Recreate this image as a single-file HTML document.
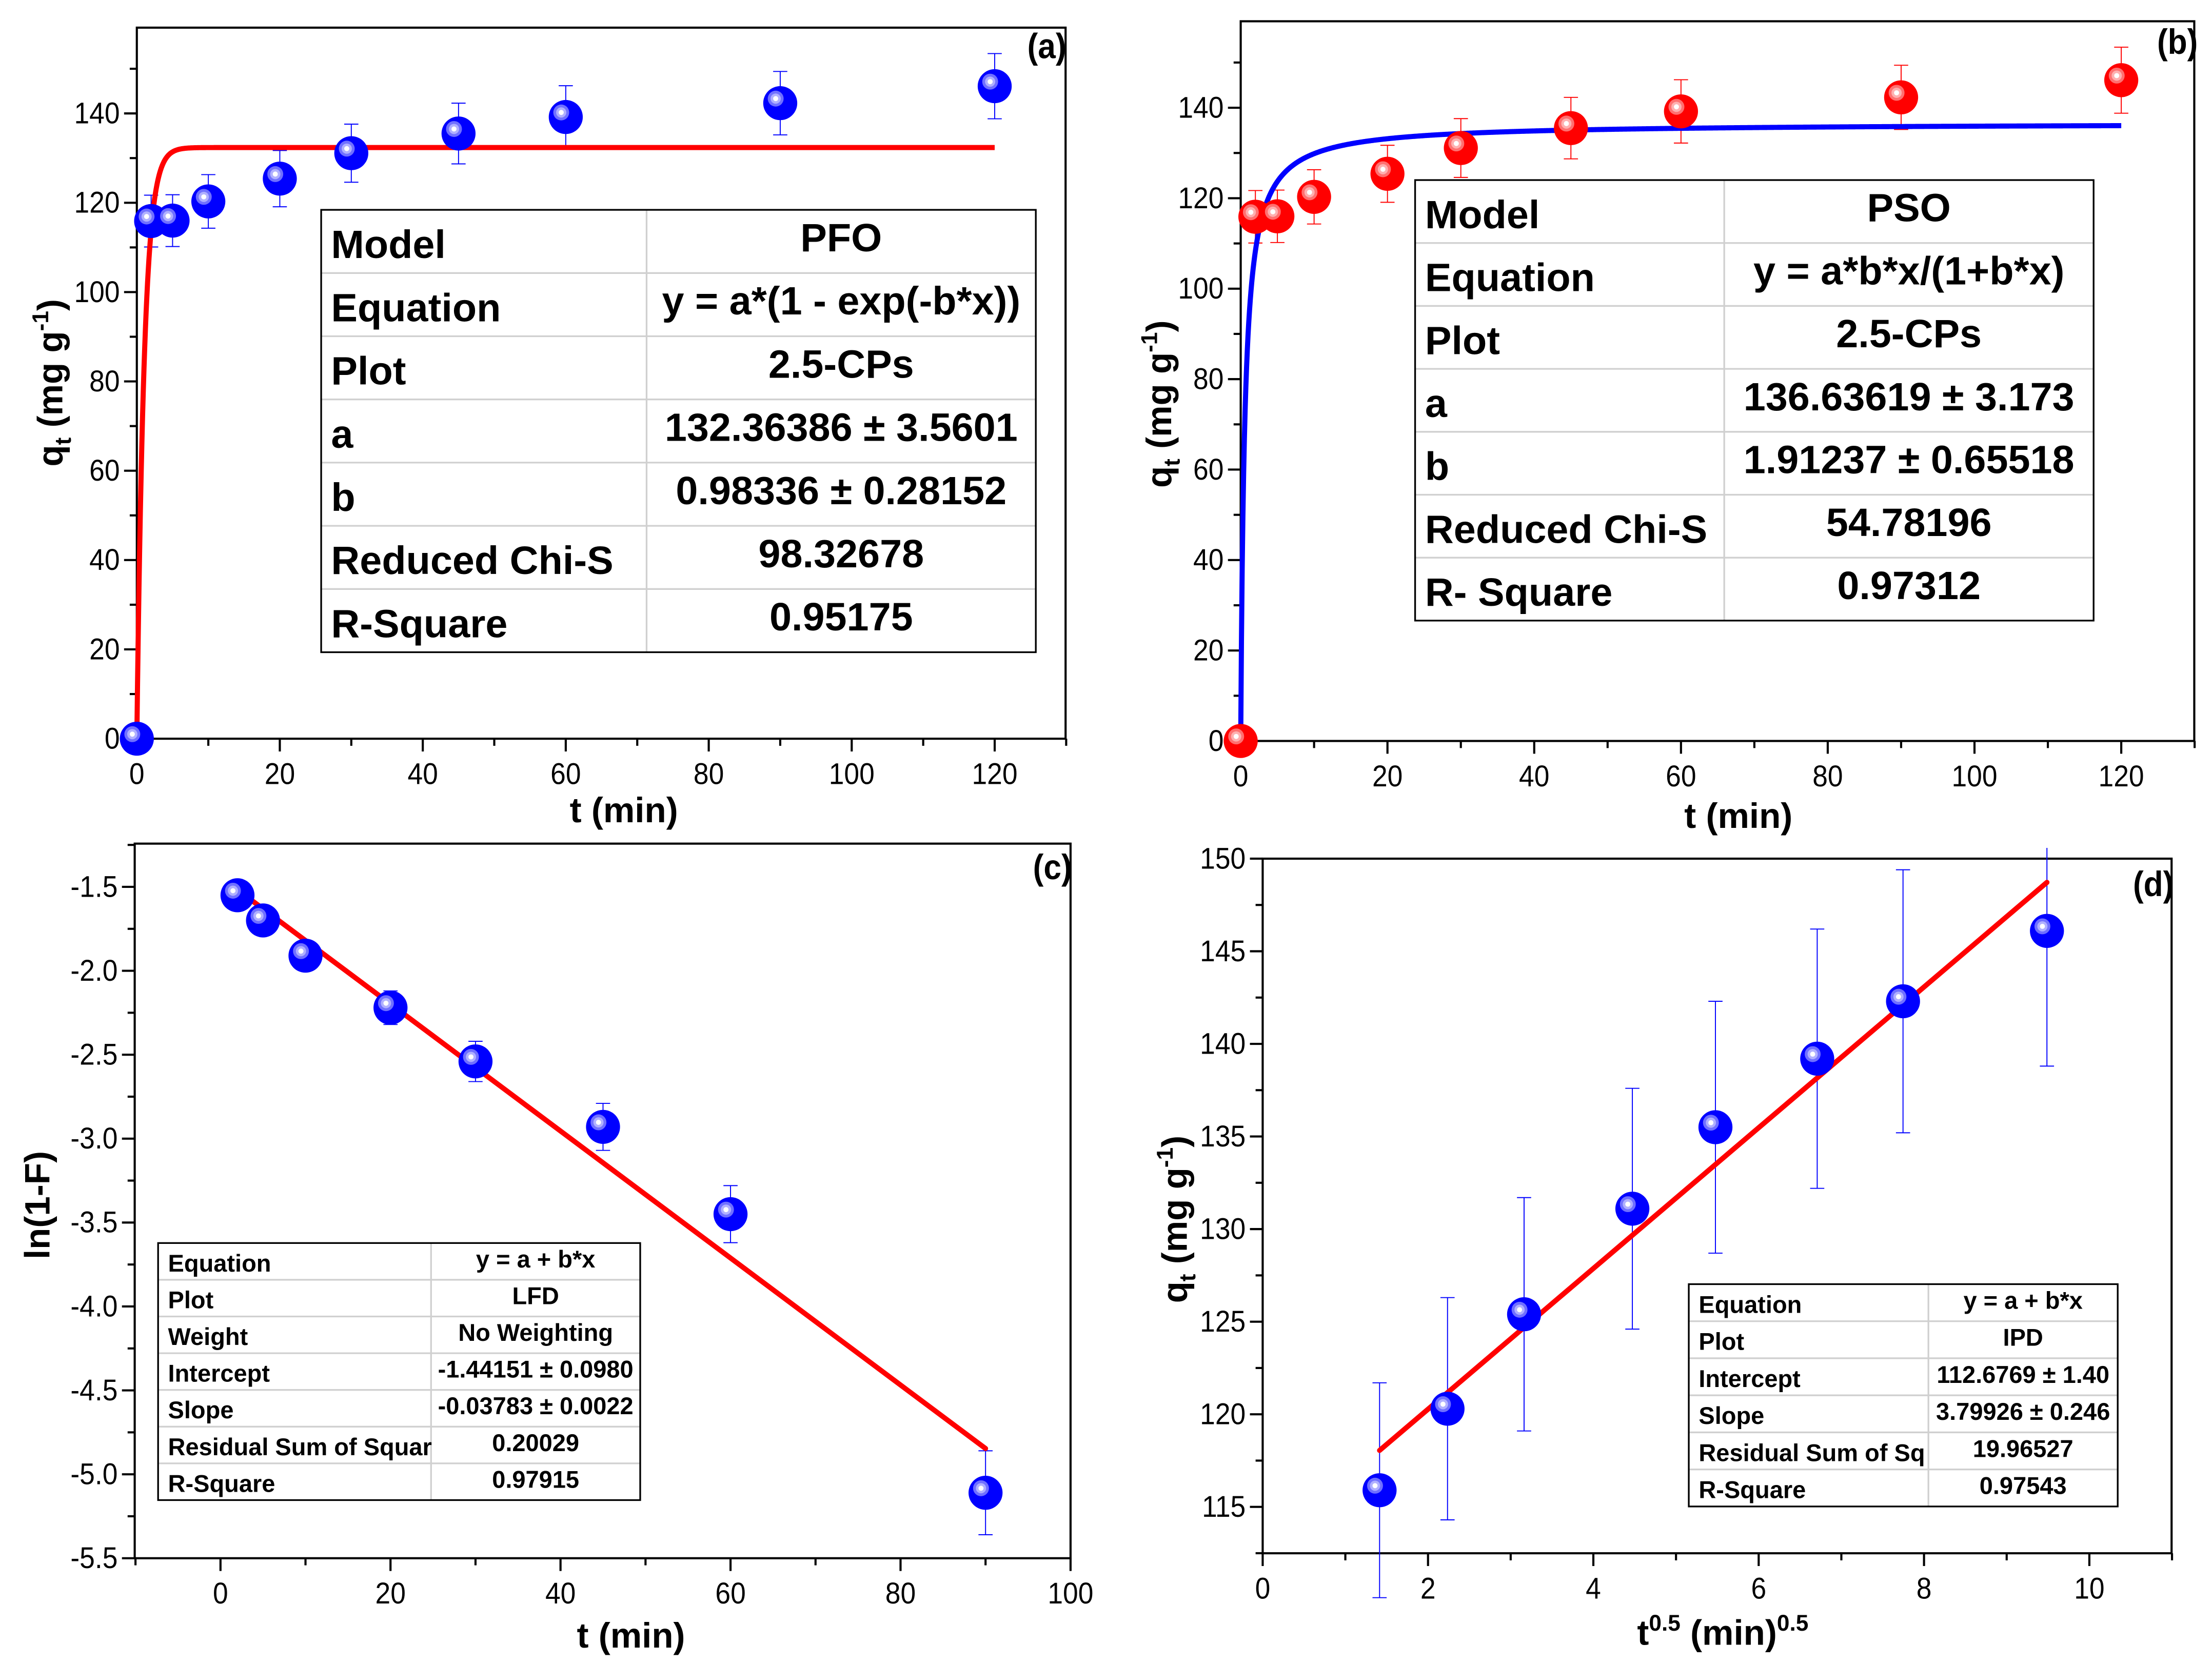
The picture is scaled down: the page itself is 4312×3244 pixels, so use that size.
<!DOCTYPE html>
<html><head><meta charset="utf-8">
<style>
html,body{margin:0;padding:0;background:#fff;}
svg{display:block;}
text{font-family:"Liberation Sans Narrow","Liberation Sans",sans-serif;}
</style></head>
<body>
<svg id="fig" xmlns="http://www.w3.org/2000/svg" width="4312" height="3244" viewBox="0 0 1560 1173.6" preserveAspectRatio="none">
</svg>
<script>
// ---- data (a) PFO & (b) PSO ----
const tA = [0, 2, 5, 10, 20, 30, 45, 60, 90, 120];
const qA = [0, 115.9, 116.0, 120.3, 125.4, 131.1, 135.5, 139.2, 142.3, 146.1];
const errA = [0, 5.8, 5.8, 6.0, 6.3, 6.5, 6.8, 7.0, 7.1, 7.3];
const pfoA = 132.36386, pfoB = 0.98336;
const psoA = 136.63619, psoB = 1.91237;
// ---- data (c) LFD ----
const tC = [2, 5, 10, 20, 30, 45, 60, 90];
const lnC = [-1.55, -1.70, -1.91, -2.22, -2.54, -2.93, -3.45, -5.11];
const errC = [0.03, 0.03, 0.06, 0.10, 0.12, 0.14, 0.17, 0.25];
const lfdIntercept = -1.44151, lfdSlope = -0.03783;
// ---- data (d) IPD ----
const sqrtD = [1.414, 2.236, 3.162, 4.472, 5.477, 6.708, 7.746, 9.487];
const qD = [115.9, 120.3, 125.4, 131.1, 135.5, 139.2, 142.3, 146.1];
const errD = [5.8, 6.0, 6.3, 6.5, 6.8, 7.0, 7.1, 7.3];
const ipdIntercept = 112.6769, ipdSlope = 3.79926;
// ---- tick labels ----
const ticksAx = [0, 20, 40, 60, 80, 100, 120];
const ticksAy = [0, 20, 40, 60, 80, 100, 120, 140];
const ticksCx = [0, 20, 40, 60, 80, 100];
const ticksCy = [-1.5, -2.0, -2.5, -3.0, -3.5, -4.0, -4.5, -5.0, -5.5];
const ticksDx = [0, 2, 4, 6, 8, 10];
const ticksDy = [115, 120, 125, 130, 135, 140, 145, 150];
// ---- tables ----
const tabA = [["Model","PFO"],["Equation","y = a*(1 - exp(-b*x))"],["Plot","2.5-CPs"],["a","132.36386 ± 3.5601"],["b","0.98336 ± 0.28152"],["Reduced Chi-S","98.32678"],["R-Square","0.95175"]];
const tabB = [["Model","PSO"],["Equation","y = a*b*x/(1+b*x)"],["Plot","2.5-CPs"],["a","136.63619 ± 3.173"],["b","1.91237 ± 0.65518"],["Reduced Chi-S","54.78196"],["R- Square","0.97312"]];
const tabC = [["Equation","y = a + b*x"],["Plot","LFD"],["Weight","No Weighting"],["Intercept","-1.44151 ± 0.0980"],["Slope","-0.03783 ± 0.0022"],["Residual Sum of Squar","0.20029"],["R-Square","0.97915"]];
const tabD = [["Equation","y = a + b*x"],["Plot","IPD"],["Intercept","112.6769 ± 1.40"],["Slope","3.79926 ± 0.246"],["Residual Sum of Sq","19.96527"],["R-Square","0.97543"]];

const NS = "http://www.w3.org/2000/svg";
const svg = document.getElementById('fig');
function mk(tag, attrs, parent){
  const e = document.createElementNS(NS, tag);
  for (const k in attrs) e.setAttribute(k, attrs[k]);
  (parent || svg).appendChild(e);
  return e;
}
function narrow(t, x, s){ t.setAttribute('transform', `matrix(${s},0,0,1,${(x*(1-s)).toFixed(2)},0)`); }
function lin(d0, d1, r0, r1){ return v => r0 + (v - d0) * (r1 - r0) / (d1 - d0); }

function axes(g, P, sx, sy, xt, yt, xMinor, yMinor, fmtY){
  const box = mk('rect', {x:P.l, y:P.t, width:P.r-P.l, height:P.b-P.t, fill:'none', stroke:'#000', 'stroke-width':1.5}, g);
  
  
  xt.forEach(v => {
    const x = sx(v);
    mk('line', {x1:x, y1:P.b, x2:x, y2:P.b+9, stroke:'#000','stroke-width':1.5}, g);
    const t = mk('text', {x:x, y:P.b+32, 'font-size':21, 'text-anchor':'middle'}, g);
    t.textContent = v;
    narrow(t, x, 0.92);
    
    
  });
  xMinor.forEach(v => { const x = sx(v); mk('line', {x1:x, y1:P.b, x2:x, y2:P.b+5, stroke:'#000','stroke-width':1.5}, g); });
  yt.forEach(v => {
    const y = sy(v);
    mk('line', {x1:P.l-9, y1:y, x2:P.l, y2:y, stroke:'#000','stroke-width':1.5}, g);
    const t = mk('text', {x:P.l-12, y:y+7, 'font-size':21, 'text-anchor':'end'}, g);
    t.textContent = fmtY ? fmtY(v) : v;
    narrow(t, P.l-12, 0.92);
    
    
  });
  yMinor.forEach(v => { const y = sy(v); mk('line', {x1:P.l-5, y1:y, x2:P.l, y2:y, stroke:'#000','stroke-width':1.5}, g); });
}
function marker(g, x, y, col){
  const c = mk('circle', {cx:x, cy:y, r:12, fill:col}, g);
  
  
  const light = col === 'red' ? ['#ff7070','#ffb0b0'] : ['#7070ff','#b0b0ff'];
  mk('circle', {cx:x-3.2, cy:y-3.2, r:5.6, fill:light[0]}, g);
  mk('circle', {cx:x-3.2, cy:y-3.2, r:3.6, fill:light[1]}, g);
  mk('circle', {cx:x-3.2, cy:y-3.2, r:1.8, fill:'#fff'}, g);
}
function errbar(g, x, y1, y2, col, clipTop){
  let d;
  if (clipTop !== undefined && y1 < clipTop) d = `M${x},${clipTop}V${y2}M${x-5},${y2}H${x+5}`;
  else d = `M${x},${y1}V${y2}M${x-5},${y1}H${x+5}M${x-5},${y2}H${x+5}`;
  const e = mk('path', {d:d, stroke:col, 'stroke-width':0.7, fill:'none'}, g);
  
  
}
function table(g, X0, X1, Xs, Y0, Y1, rows, fs){
  const n = rows.length, rh = (Y1 - Y0) / n;
  for (let i = 1; i < n; i++) mk('line', {x1:X0, y1:Y0+i*rh, x2:X1, y2:Y0+i*rh, stroke:'#d0d0d0','stroke-width':1.2}, g);
  mk('line', {x1:Xs, y1:Y0, x2:Xs, y2:Y1, stroke:'#d0d0d0','stroke-width':1.2}, g);
  const r = mk('rect', {x:X0, y:Y0, width:X1-X0, height:Y1-Y0, fill:'none', stroke:'#000','stroke-width':1.2}, g);
  
  
  rows.forEach((row, i) => {
    const a = mk('text', {x:X0+7, y:Y0+i*rh+rh*0.5+fs*0.42, 'font-size':fs, 'font-weight':'bold'}, g);
    a.textContent = row[0];
    
    
    const cx = (Xs+X1)/2;
    const b = mk('text', {x:cx, y:Y0+i*rh+rh*0.5+fs*0.25, 'font-size':fs, 'font-weight':'bold', 'text-anchor':'middle'}, g);
    b.textContent = row[1];
    
    
  });
}
function panelLabel(g, x, y, s){
  const t = mk('text', {x:x, y:y, 'font-size':25, 'font-weight':'bold', 'text-anchor':'end'}, g);
  t.textContent = s;
  narrow(t, x, 0.9);
  
  
}
function xTitle(g, x, y, html){
  const t = mk('text', {x:x, y:y, 'font-size':25, 'font-weight':'bold', 'text-anchor':'middle', 'font-family':'Liberation Sans, sans-serif'}, g);
  t.innerHTML = html;
  
  
}
function yTitle(g, x, y, html){
  const t = mk('text', {x:0, y:0, 'font-size':25, 'font-weight':'bold', 'text-anchor':'middle', transform:`translate(${x},${y}) rotate(-90)`, 'font-family':'Liberation Sans, sans-serif'}, g);
  t.innerHTML = html;
  
  
}
const QT = 'q<tspan font-size="16" dy="6">t</tspan><tspan dy="-6"> (mg g</tspan><tspan font-size="16" dy="-10">-1</tspan><tspan dy="10">)</tspan>';
function range(a, b, s){ const r=[]; for(let v=a; v<=b+1e-9; v+=s) r.push(+v.toFixed(4)); return r; }

// ===== Panel (a) =====
(function(){
  const g = mk('g', {});  
  const P = {l:96.5, r:751.5, t:19.5, b:521};
  const sx = lin(0,120,96.5,701.5), sy = lin(0,140,521,80);
  axes(g, P, sx, sy, ticksAx, ticksAy, range(10,130,20), range(10,150,20));
  tA.forEach((t,i) => { if (errA[i]) errbar(g, sx(t), sy(qA[i]+errA[i]), sy(qA[i]-errA[i]), '#0000ff'); });
  let d=''; for (let x=0; x<=120; x+=0.1){ d += (x?'L':'M') + sx(x).toFixed(2)+','+sy(pfoA*(1-Math.exp(-pfoB*x))).toFixed(2); }
  const c = mk('path', {d:d, stroke:'#ff0000', 'stroke-width':3.6, fill:'none'}, g);
   
  tA.forEach((t,i) => marker(g, sx(t), sy(qA[i]), '#0000ff'));
  table(g, 226.5, 730.5, 456, 148, 460, tabA, 28);
  panelLabel(g, 752, 41, '(a)');
  xTitle(g, 440, 580, 't (min)');
  yTitle(g, 44, 270, QT);
})();

// ===== Panel (b) =====
(function(){
  const g = mk('g', {});  
  const P = {l:875, r:1547.5, t:15, b:522.6};
  const sx = lin(0,120,875,1496), sy = lin(0,140,522.6,76);
  axes(g, P, sx, sy, ticksAx, ticksAy, range(10,130,20), range(10,150,20));
  tA.forEach((t,i) => { if (errA[i]) errbar(g, sx(t), sy(qA[i]+errA[i]), sy(qA[i]-errA[i]), '#ff0000'); });
  let d=''; for (let x=0; x<=120; x+=0.1){ d += (x?'L':'M') + sx(x).toFixed(2)+','+sy(psoA*psoB*x/(1+psoB*x)).toFixed(2); }
  const c = mk('path', {d:d, stroke:'#0000ff', 'stroke-width':3.6, fill:'none'}, g);
   
  tA.forEach((t,i) => marker(g, sx(t), sy(qA[i]), 'red'));
  table(g, 998, 1476.5, 1216, 127, 437.7, tabB, 28);
  panelLabel(g, 1550, 38, '(b)');
  xTitle(g, 1226, 584, 't (min)');
  yTitle(g, 826, 285, QT);
})();

// ===== Panel (c) =====
(function(){
  const g = mk('g', {});  
  const P = {l:95, r:755, t:595, b:1099};
  const sx = lin(0,100,155.5,755), sy = lin(-1.5,-5.5,625.5,1099);
  axes(g, P, sx, sy, ticksCx, ticksCy, range(-10,90,20), [], v=>v.toFixed(1));
  [-1.25,-1.75,-2.25,-2.75,-3.25,-3.75,-4.25,-4.75,-5.25].forEach(v=>mk('line',{x1:P.l-5,y1:sy(v),x2:P.l,y2:sy(v),stroke:'#000','stroke-width':1.5},g));
  tC.forEach((t,i) => errbar(g, sx(t), sy(lnC[i]+errC[i]), sy(lnC[i]-errC[i]), '#0000ff'));
  const l = mk('line', {x1:sx(2), y1:sy(lfdIntercept+lfdSlope*2), x2:sx(90), y2:sy(lfdIntercept+lfdSlope*90), stroke:'#ff0000','stroke-width':3.6,'stroke-linecap':'round'}, g);
   
  tC.forEach((t,i) => marker(g, sx(t), sy(lnC[i]), '#0000ff'));
  table(g, 111.5, 451.5, 304, 876.7, 1058, tabC, 17);
  panelLabel(g, 756, 620, '(c)');
  xTitle(g, 445, 1162, 't (min)');
  yTitle(g, 35, 850, 'ln(1-F)');
})();

// ===== Panel (d) =====
(function(){
  const g = mk('g', {});  
  const P = {l:890.5, r:1531.5, t:605.6, b:1095.5};
  const sx = lin(0,10,890.5,1473.5), sy = lin(115,150,1062.8,605.6);
  axes(g, P, sx, sy, ticksDx, ticksDy, range(1,11,2), range(112.5,147.5,5));
  sqrtD.forEach((t,i) => errbar(g, sx(t), sy(qD[i]+errD[i]), sy(qD[i]-errD[i]), '#0000ff', 598));
  const l = mk('line', {x1:sx(sqrtD[0]), y1:sy(ipdIntercept+ipdSlope*sqrtD[0]), x2:sx(sqrtD[7]), y2:sy(ipdIntercept+ipdSlope*sqrtD[7]), stroke:'#ff0000','stroke-width':3.6,'stroke-linecap':'round'}, g);
   
  sqrtD.forEach((t,i) => marker(g, sx(t), sy(qD[i]), '#0000ff'));
  table(g, 1191, 1493.5, 1360, 905.7, 1062.5, tabD, 17);
  panelLabel(g, 1533, 632, '(d)');
  xTitle(g, 1215, 1160, 't<tspan font-size="16" dy="-10">0.5</tspan><tspan dy="10"> (min)</tspan><tspan font-size="16" dy="-10">0.5</tspan>');
  yTitle(g, 837, 860, QT);
})();
</script>
</body></html>
